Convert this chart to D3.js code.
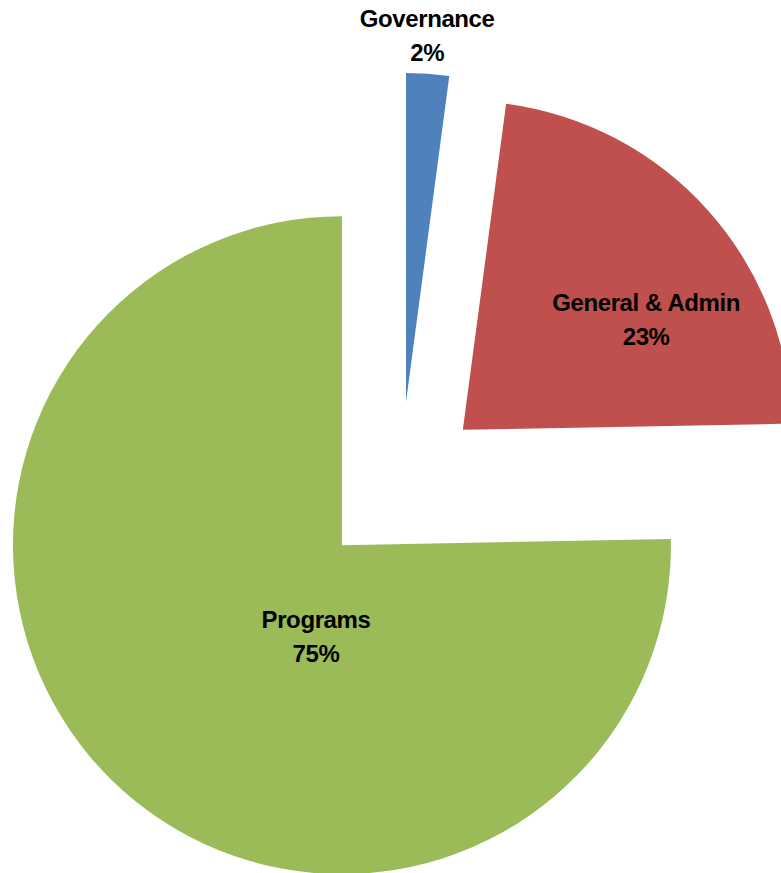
<!DOCTYPE html>
<html>
<head>
<meta charset="utf-8">
<script src="https://cdn.jsdelivr.net/npm/d3@7"></script>
<style>
  body { margin: 0; background: #fff; }
  svg { display: block; }
  .lbl { font-family: "Liberation Sans", Arial, sans-serif; font-weight: bold; font-size: 24px; letter-spacing: -0.4px; fill: #000; }
</style>
</head>
<body>
<div id="chart"></div>
<script>
// slice data (share of expenses, %)
var categories = ["Governance", "General & Admin", "Programs"];
var values = [2.1, 22.6, 75.3];
var colors = ["#4F81BD", "#C0504D", "#9BBB59"];

// where each label sits, relative to its own (exploded) slice tip:
// [angle in degrees clockwise from 12 o'clock, distance as fraction of radius]
var labelSpots = [[3.3, 1.115], [59, 0.65], [195.8, 0.29]];

var width = 781, height = 873;
var cx = 400.5, cy = 485.5;
var radius = 329;
var explode = 0.254 * radius;

var svg = d3.select("#chart").append("svg")
   .attr("width", width)
   .attr("height", height);

var g = svg.append("g").attr("transform", "translate(" + cx + "," + cy + ")");

var pie = d3.pie().sort(null).value(function(d) { return d; });
var arcs = pie(values);
var total = d3.sum(values);
var pct = d3.format(".0%");

var arc = d3.arc().innerRadius(0).outerRadius(radius);

function offset(d) {
   var mid = (d.startAngle + d.endAngle) / 2;
   return [explode * Math.sin(mid), -explode * Math.cos(mid)];
}

var slice = g.selectAll("g.slice").data(arcs)
   .enter().append("g")
   .attr("class", "slice")
   .attr("transform", function(d) { var o = offset(d); return "translate(" + o[0] + "," + o[1] + ")"; });

slice.append("path")
   .attr("d", arc)
   .attr("fill", function(d, i) { return colors[i]; });

slice.each(function(d, i) {
   var a = labelSpots[i][0] * Math.PI / 180;
   var r = labelSpots[i][1] * radius;
   var t = d3.select(this).append("text")
      .attr("class", "lbl")
      .attr("text-anchor", "middle")
      .attr("transform", "translate(" + (r * Math.sin(a)) + "," + (-r * Math.cos(a)) + ")");
   t.append("tspan").attr("x", 0).attr("y", -9).text(categories[i]);
   t.append("tspan").attr("x", 0).attr("y", 25).text(pct(d.data / total));
});
</script>
</body>
</html>
